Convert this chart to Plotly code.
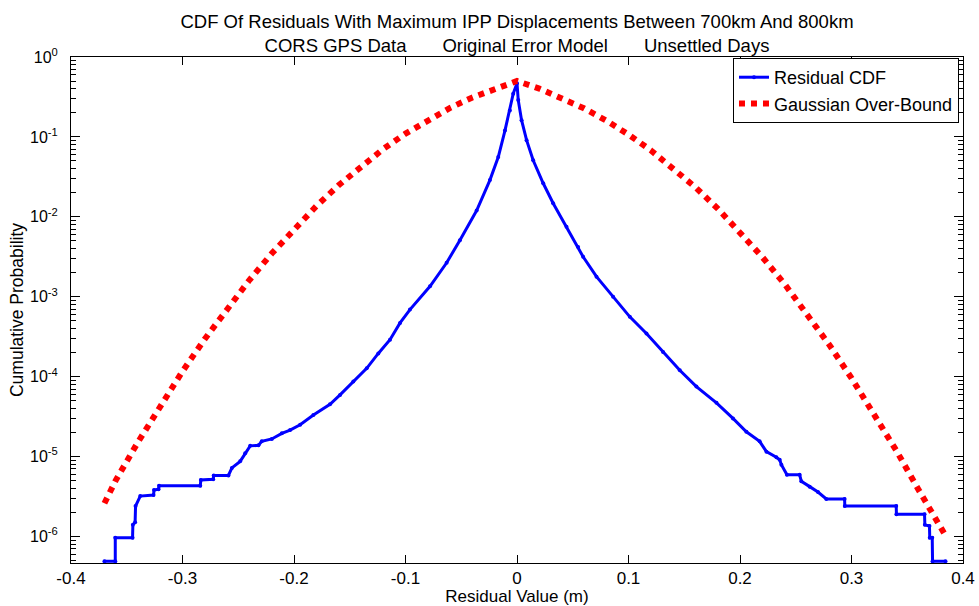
import plotly.graph_objects as go

# ---------------- data ----------------
resid_x = [-0.370, -0.3603, -0.3603, -0.3448, -0.3445, -0.3425, -0.3421, -0.3379,
           -0.3260, -0.3255, -0.3215, -0.3210, -0.2841, -0.2835, -0.2725, -0.2720,
           -0.2588, -0.2557, -0.2483, -0.2438, -0.2393, -0.2319, -0.2289, -0.2199,
           -0.2109, -0.2035, -0.1945, -0.1826, -0.1677, -0.1587, -0.1468, -0.1348,
           -0.1244, -0.1139, -0.1049, -0.0960, -0.0780, -0.0631, -0.0512, -0.0362,
           -0.0243, -0.0168, -0.0108, -0.0064, -0.0034, 0.0000,
           0.0011, 0.0041, 0.0086, 0.0145, 0.0235, 0.0324, 0.0444, 0.0548, 0.0593,
           0.0713, 0.0862, 0.1012, 0.1161, 0.1310, 0.1460, 0.1609, 0.1789, 0.1937,
           0.2057, 0.2176, 0.2237, 0.2326, 0.2356, 0.2371, 0.2421, 0.2535, 0.2550,
           0.2625, 0.2699, 0.2774, 0.2938, 0.2940, 0.3401, 0.3403, 0.3655, 0.3658,
           0.3699, 0.3702, 0.3724, 0.3727, 0.3843]
resid_y = [4.9e-7, 4.9e-7, 9.6e-7, 9.6e-7, 1.4e-6, 1.5e-6, 2.4e-6, 3.2e-6,
           3.3e-6, 3.8e-6, 3.9e-6, 4.3e-6, 4.3e-6, 5.1e-6, 5.2e-6, 5.8e-6,
           5.8e-6, 7.2e-6, 8.7e-6, 1.1e-5, 1.36e-5, 1.38e-5, 1.55e-5, 1.66e-5,
           1.95e-5, 2.14e-5, 2.5e-5, 3.3e-5, 4.5e-5, 5.9e-5, 8.7e-5, 1.27e-4,
           1.95e-4, 2.9e-4, 4.7e-4, 6.9e-4, 1.35e-3, 2.66e-3, 5.1e-3, 0.012,
           0.0288, 0.056, 0.12, 0.214, 0.347, 0.47,
           0.29, 0.162, 0.091, 0.051, 0.0263, 0.0148, 0.0075, 0.0042, 0.00316,
           0.00178, 0.0010, 5.6e-4, 3.47e-4, 2.04e-4, 1.2e-4, 7.5e-5, 4.7e-5, 3.0e-5,
           2.04e-5, 1.55e-5, 1.15e-5, 9.8e-6, 9.1e-6, 7.9e-6, 5.9e-6, 5.9e-6, 4.9e-6,
           4.2e-6, 3.6e-6, 2.95e-6, 2.95e-6, 2.4e-6, 2.4e-6, 1.9e-6, 1.9e-6, 1.4e-6,
           1.35e-6, 9.6e-7, 9.6e-7, 4.9e-7, 4.9e-7]

bound_x = [-0.37, -0.36, -0.34, -0.32, -0.30, -0.28, -0.26, -0.24, -0.22, -0.20,
           -0.18, -0.16, -0.14, -0.12, -0.10, -0.08, -0.06, -0.04, -0.02, 0.0,
           0.02, 0.04, 0.06, 0.08, 0.10, 0.12, 0.14, 0.16, 0.18, 0.20,
           0.22, 0.24, 0.26, 0.28, 0.30, 0.32, 0.34, 0.36, 0.37, 0.38, 0.383]
bound_y = [2.6e-6, 5.0e-6, 1.51e-5, 4.31e-5, 1.166e-4, 2.96e-4, 7.11e-4, 1.616e-3, 3.47e-3, 7.06e-3,
           0.0136, 0.0248, 0.0429, 0.0705, 0.1099, 0.1631, 0.2308, 0.3118, 0.4031, 0.5,
           0.4019, 0.3096, 0.2280, 0.1602, 0.1071, 0.0680, 0.0410, 0.02343, 0.01268, 0.00649,
           0.00314, 0.00144, 6.19e-4, 2.51e-4, 9.57e-5, 3.52e-5, 1.2e-5, 3.87e-6, 2.2e-6, 1.25e-6, 1.1e-6]

x_ticks = [-0.4, -0.3, -0.2, -0.1, 0.0, 0.1, 0.2, 0.3, 0.4]
x_ticktext = ["-0.4", "-0.3", "-0.2", "-0.1", "0", "0.1", "0.2", "0.3", "0.4"]
y_ticks = [1e-6, 1e-5, 1e-4, 1e-3, 1e-2, 1e-1, 1]
y_ticktext = ["10<sup>-6</sup>", "10<sup>-5</sup>", "10<sup>-4</sup>", "10<sup>-3</sup>",
              "10<sup>-2</sup>", "10<sup>-1</sup>", "10<sup>0</sup>"]
y_minor = [k * 10.0 ** e for e in range(-7, 0) for k in range(2, 10)]

FONT = "Liberation Sans, Arial, sans-serif"
NB = "\u00a0" * 7

fig = go.Figure()
fig.add_trace(go.Scatter(
    x=resid_x, y=resid_y, name="Residual CDF", mode="lines+markers",
    line=dict(color="#0000FF", width=3),
    marker=dict(color="#0000FF", size=4),
))
fig.add_trace(go.Scatter(
    x=bound_x, y=bound_y, name="Gaussian Over-Bound", mode="lines",
    line=dict(color="#FF0000", width=6, dash="6px,6px"),
))

fig.update_layout(
    width=979, height=606,
    margin=dict(l=71, r=16, t=57, b=43, autoexpand=False),
    paper_bgcolor="white", plot_bgcolor="white",
    font=dict(family=FONT, size=17, color="black"),
    title=dict(
        text="CDF Of Residuals With Maximum IPP Displacements Between 700km And 800km<br>"
             "CORS GPS Data" + NB + "Original Error Model" + NB + "Unsettled Days",
        x=0.5, xref="paper", xanchor="center",
        y=1 - 28 / 606, yref="container", yanchor="middle",
        font=dict(family=FONT, size=18.5, color="black"),
    ),
    showlegend=True,
    legend=dict(
        x=0.9955, y=0.998, xanchor="right", yanchor="top",
        bgcolor="white", bordercolor="black", borderwidth=1,
        font=dict(family=FONT, size=18, color="black"),
        tracegroupgap=0,
    ),
    xaxis=dict(
        range=[-0.4, 0.4], tickmode="array", tickvals=x_ticks, ticktext=x_ticktext,
        ticks="inside", ticklen=8, tickcolor="black", tickwidth=1,
        showline=True, linecolor="black", linewidth=1, mirror="ticks",
        showgrid=False, zeroline=False, automargin=False,
        tickfont=dict(family=FONT, size=17, color="black"),
        ticklabelstandoff=0,
        title=dict(text="Residual Value (m)", standoff=2,
                   font=dict(family=FONT, size=17, color="black")),
    ),
    yaxis=dict(
        type="log", range=[-6.3325, 0],
        tickmode="array", tickvals=y_ticks, ticktext=y_ticktext,
        ticks="inside", ticklen=9, tickcolor="black", tickwidth=1,
        minor=dict(tickmode="array", tickvals=y_minor, ticks="inside", ticklen=5,
                   tickcolor="black", showgrid=False),
        showline=True, linecolor="black", linewidth=1, mirror="ticks",
        showgrid=False, zeroline=False, automargin=False,
        tickfont=dict(family=FONT, size=16, color="black"),
        ticklabelstandoff=9,
        title=dict(text="Cumulative Probability", standoff=1,
                   font=dict(family=FONT, size=17.5, color="black")),
    ),
)

fig.write_html("out.html")
